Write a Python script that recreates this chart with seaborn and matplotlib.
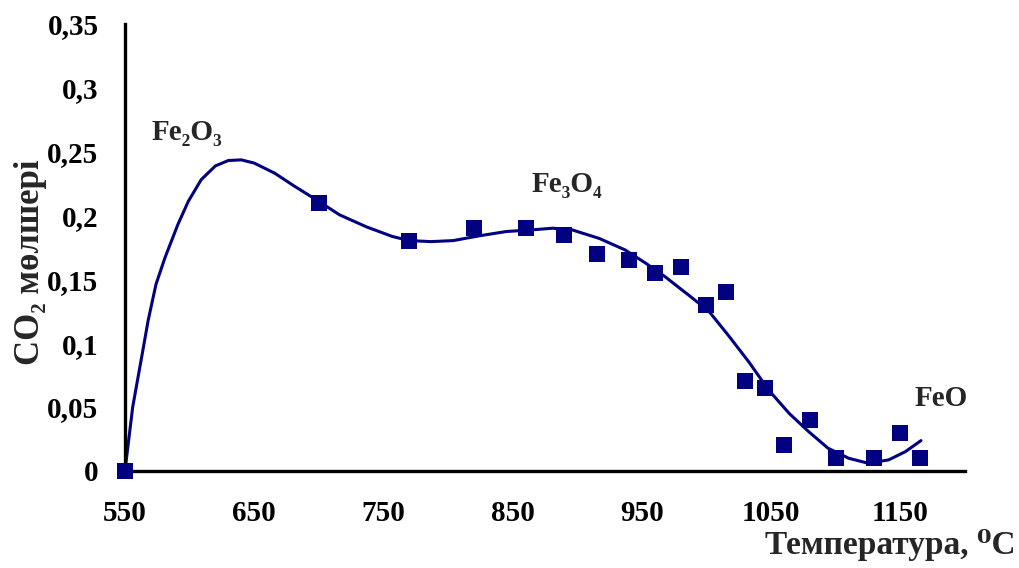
import matplotlib
matplotlib.use("Agg")
import matplotlib.pyplot as plt
import seaborn as sns
import pandas as pd

# measured points
temp = [550, 700, 770, 820, 860, 890, 915, 940, 960, 980, 1000, 1015,
        1030, 1045, 1060, 1080, 1100, 1130, 1150, 1165]
co2 = [0.0, 0.21, 0.18, 0.19, 0.19, 0.185, 0.17, 0.165, 0.155, 0.16, 0.13, 0.14,
       0.07, 0.065, 0.02, 0.04, 0.01, 0.01, 0.03, 0.01]

# trend curve
curve_t = [550, 556, 563, 568, 574, 581, 591, 599, 609, 620, 630, 640, 650,
           666, 681, 700, 716, 737, 757, 770, 787, 804, 824, 845, 865, 881,
           896, 917, 937, 953, 968, 981, 986, 1002, 1017, 1033, 1048, 1064,
           1079, 1094, 1110, 1125, 1141, 1154, 1166]
curve_v = [0.0, 0.05, 0.0895, 0.118, 0.146, 0.167, 0.193, 0.211, 0.228,
           0.2388, 0.243, 0.2435, 0.241, 0.233, 0.223, 0.211, 0.2005, 0.191,
           0.1835, 0.1803, 0.1795, 0.1803, 0.184, 0.1874, 0.1887, 0.19,
           0.1887, 0.182, 0.173, 0.1626, 0.152, 0.1417, 0.1378, 0.1248,
           0.106, 0.085, 0.0634, 0.045, 0.0308, 0.0178, 0.0099, 0.006,
           0.0086, 0.0151, 0.0237]

x_ticks = [550, 650, 750, 850, 950, 1050, 1150]
y_ticks = [0, 0.05, 0.1, 0.15, 0.2, 0.25, 0.3, 0.35]
y_tick_labels = ["0", "0,05", "0,1", "0,15", "0,2", "0,25", "0,3", "0,35"]

phases = ["Fe₂O₃", "Fe₃O₄", "FeO"]
phase_t = [598, 892, 1182]
phase_v = [0.265, 0.224, 0.057]

sns.set_style("white")
plt.rcParams["font.family"] = ["Liberation Serif", "DejaVu Serif"]
plt.rcParams["font.weight"] = "bold"

navy = "#000080"

fig, ax = plt.subplots(figsize=(10.2, 5.68), dpi=100)
fig.subplots_adjust(left=0.1225, right=0.946, bottom=0.171, top=0.958)

curve_df = pd.DataFrame({"t": curve_t, "v": curve_v})
pts_df = pd.DataFrame({"t": temp, "v": co2})

sns.lineplot(data=curve_df, x="t", y="v", ax=ax, color=navy, linewidth=2.2,
             sort=False, zorder=2)
sns.scatterplot(data=pts_df, x="t", y="v", ax=ax, marker="s", s=130,
                color=navy, edgecolor=navy, linewidth=0, zorder=3, clip_on=False)

for name, t, v in zip(phases, phase_t, phase_v):
    ax.text(t, v, name, ha="center", va="center", fontsize=21, fontweight="bold")

ax.set_xlim(550, 1200)
ax.set_ylim(0, 0.35)
ax.set_xticks(x_ticks)
ax.set_yticks(y_ticks)
ax.set_yticklabels(y_tick_labels)

for s in ["top", "right"]:
    ax.spines[s].set_visible(False)
for s in ["left", "bottom"]:
    ax.spines[s].set_color("black")
    ax.spines[s].set_linewidth(2.4)

ax.tick_params(axis="both", direction="out", length=6, width=2, colors="black",
               labelsize=21)
ax.tick_params(axis="y", pad=13)
ax.tick_params(axis="x", pad=15)
for lab in ax.get_xticklabels() + ax.get_yticklabels():
    lab.set_fontweight("bold")

ax.set_xlabel("Температура, ⁰C", fontsize=24, fontweight="bold")
ax.xaxis.set_label_coords(1.06, -0.13)
ax.xaxis.label.set_ha("right")
ax.set_ylabel("CO₂ мөлшері", fontsize=25, fontweight="bold")
ax.yaxis.set_label_coords(-0.093, 0.467)

fig.savefig("out.png", dpi=100)
